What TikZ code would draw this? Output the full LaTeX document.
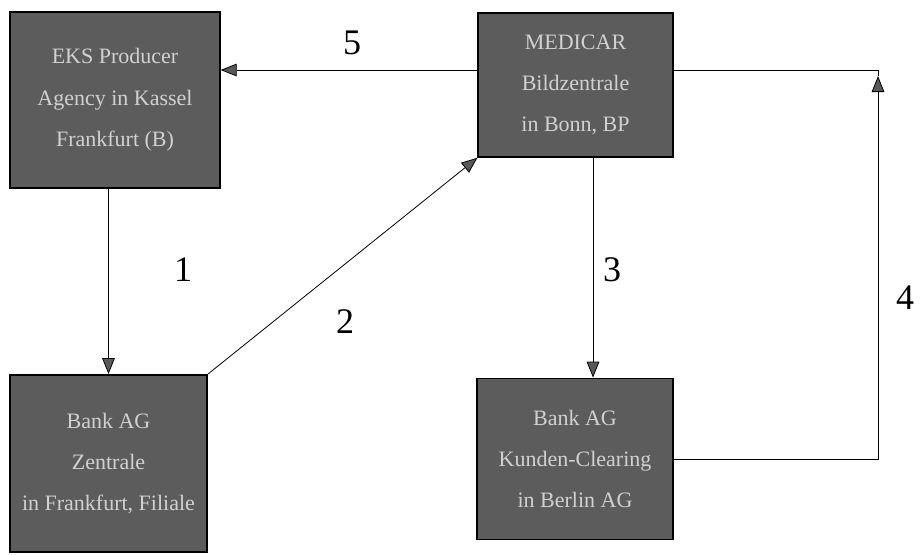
\documentclass[tikz,border=0pt]{standalone}
\usepackage{fontspec}
\setmainfont{Liberation Serif}
\usepackage{tikz}
\usetikzlibrary{arrows.meta,positioning,calc}
\definecolor{boxgray}{gray}{0.36}
\definecolor{boxtext}{gray}{0.82}

\begin{document}
\begin{tikzpicture}[x=0.75pt,y=-0.75pt,
  agent/.style={draw=black,line width=1.1pt,fill=boxgray,text=boxtext,align=center,
    inner sep=0pt,font=\fontsize{16.5}{31}\selectfont},
  arr/.style={-{Triangle[length=12pt,width=9.5pt,fill=black!65]},line width=0.6pt},
  num/.style={font=\fontsize{27}{30}\selectfont}]
\useasboundingbox (0,0) rectangle (922,554);
\node[agent,minimum width=157.5pt,minimum height=132pt] (tl) at (115,100)
  {EKS Producer\\Agency in Kassel\\Frankfurt (B)};
\node[agent,minimum width=146pt,minimum height=108pt] (tr) at (575.5,85)
  {MEDICAR\\Bildzentrale\\in Bonn, BP};
\node[agent,minimum width=148pt,minimum height=133pt] (bl) at (108.5,463.5)
  {Bank AG\\Zentrale\\in Frankfurt, Filiale};
\node[agent,minimum width=147pt,minimum height=121pt] (br) at (575,459)
  {Bank AG\\Kunden-Clearing\\in Berlin AG};
\coordinate (y5) at (0,70);
\coordinate (x3) at (593,0);
\coordinate (r4) at (878,70);
\coordinate (h4) at (878,76);
% numbered flows
\draw[arr] (tl.south-|bl.north) -- (bl.north);
\draw[arr] (bl.north east) -- (tr.south west);
\draw[arr] (tr.south-|x3) -- (br.north-|x3);
\draw[arr] (br.east) -| (h4);
\draw[line width=0.6pt] (tr.east|-r4) -- (r4) -- (h4);
\draw[arr] (tr.west|-y5) -- (tl.east|-y5);
\node[num] (n1) at (183,270) {1};
\node[num] (n2) at (345,322) {2};
\node[num] (n3) at (612,270) {3};
\node[num] (n4) at (905,298) {4};
\node[num] (n5) at (352,43) {5};
\end{tikzpicture}
\end{document}
